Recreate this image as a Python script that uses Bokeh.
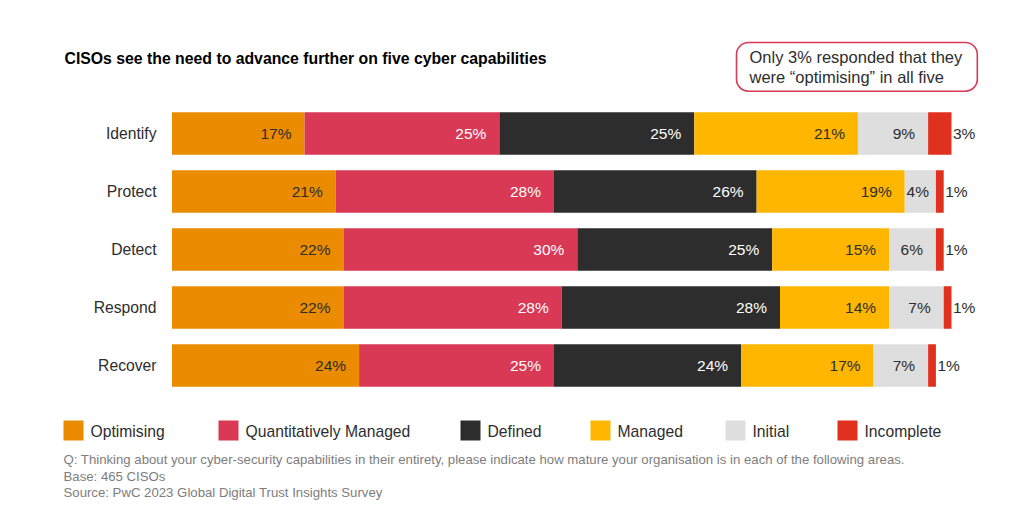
from bokeh.plotting import figure
from bokeh.models import ColumnDataSource, Range1d, Label
from bokeh.embed import file_html
from bokeh.resources import INLINE
from bokeh.core.properties import value

# ---------------- data ----------------
categories = ["Identify", "Protect", "Detect", "Respond", "Recover"]
series = ["Optimising", "Quantitatively Managed", "Defined", "Managed", "Initial", "Incomplete"]
optimising = [17, 21, 22, 22, 24]
quant_managed = [25, 28, 30, 28, 25]
defined = [25, 26, 25, 28, 24]
managed = [21, 19, 15, 14, 17]
initial = [9, 4, 6, 7, 7]
incomplete = [3, 1, 1, 1, 1]

colors = ["#EB8C00", "#D93954", "#2D2D2D", "#FFB600", "#DEDEDE", "#E0301E"]
label_colors = ["#2D2D2D", "#FFFFFF", "#FFFFFF", "#2D2D2D", "#2D2D2D", "#2D2D2D"]

title_text = "CISOs see the need to advance further on five cyber capabilities"
callout_text = "Only 3% responded that they\nwere \u201coptimising\u201d in all five"
notes = [
    "Q: Thinking about your cyber-security capabilities in their entirety, please indicate how mature your organisation is in each of the following areas.",
    "Base: 465 CISOs",
    "Source: PwC 2023 Global Digital Trust Insights Survey",
]

# ---------------- layout ----------------
FONT_NAME = "Liberation Sans"
FONT = value(FONT_NAME)
W, H = 1016, 500
SCALE = 7.795          # pixels per percentage point
BAR_X0 = 171.5         # page x of 0 %

def px(ix):
    """page x pixel -> data x (percent)"""
    return (ix - BAR_X0) / SCALE

x0 = px(0)
x1 = x0 + W / SCALE

p = figure(width=W, height=H, output_backend="svg", toolbar_location=None,
           x_range=Range1d(x0, x1), y_range=Range1d(H, 0),
           x_axis_location=None, y_axis_location=None, min_border=0,
           background_fill_color="white", border_fill_color="white")
p.grid.visible = False
p.outline_line_color = None

bar_y = [133 + 58 * i for i in range(len(categories))]
all_series = [optimising, quant_managed, defined, managed, initial, incomplete]

data = {"y": bar_y, "cat": categories}
for name, vals in zip(series, all_series):
    data[name] = vals
src = ColumnDataSource(data)

p.hbar_stack(series, y="y", height=42.5, color=colors, line_color=None, source=src)

# value labels
lx, ly, lt, lc, lo = [], [], [], [], []
ox, oy, ot = [], [], []
for i in range(len(categories)):
    cum = 0
    for s, vals in enumerate(all_series):
        v = vals[i]
        cum += v
        txt = f"{v}%"
        if s == len(all_series) - 1:
            ox.append(cum); oy.append(bar_y[i]); ot.append(txt)
        else:
            seg_px = v * SCALE
            tw = 8.6 * len(txt)
            pad = min(13.0, max(3.0, (seg_px - tw) / 2))
            lx.append(cum); ly.append(bar_y[i]); lt.append(txt)
            lc.append(label_colors[s]); lo.append(-pad)

p.text(x=lx, y=ly, text=lt, text_color=lc, x_offset=lo, text_font=FONT,
       text_font_size="15.5px", text_align="right", text_baseline="middle")
p.text(x=ox, y=oy, text=ot, text_color="#2D2D2D", x_offset=1.5, text_font=FONT,
       text_font_size="15.5px", text_align="left", text_baseline="middle")

# category labels
p.text(x=[px(156)] * len(categories), y=bar_y, text=categories, text_color="#2D2D2D",
       text_font=FONT, text_font_size="15.7px", text_align="right", text_baseline="middle")

# title
p.text(x=[px(64)], y=[58], text=[title_text], text_color="#000000", text_font=FONT,
       text_font_size="15.8px", text_font_style="bold", text_align="left",
       text_baseline="middle")

# callout (padding order: left, right, top, bottom)
callout = Label(x=px(736), y=42, text=callout_text, text_font=FONT_NAME, text_font_size="16.5px",
                text_color="#2D2D2D", text_align="left", text_baseline="top",
                text_line_height=1.15, padding=(13, 15, 5, 5),
                border_line_color="#D93954", border_line_width=1.6, border_radius=12,
                background_fill_color="white")
p.add_layout(callout)

# legend
leg_x = [63, 218, 460, 590, 725, 837]
p.rect(x=[px(lx_ + 10) for lx_ in leg_x], y=[430] * len(series), width=20, height=20,
       width_units="screen", height_units="screen", color=colors, line_color=None)
p.text(x=[px(lx_ + 27) for lx_ in leg_x], y=[430.5] * len(series), text=series,
       text_color="#2D2D2D", text_font=FONT, text_font_size="15.7px",
       text_align="left", text_baseline="middle")

# footnotes
p.text(x=[px(63)] * len(notes), y=[459, 476, 492], text=notes, text_color="#7D7D7D",
       text_font=FONT, text_font_size="13.2px", text_align="left", text_baseline="middle")

open("out.html", "w").write(file_html(p, INLINE))
